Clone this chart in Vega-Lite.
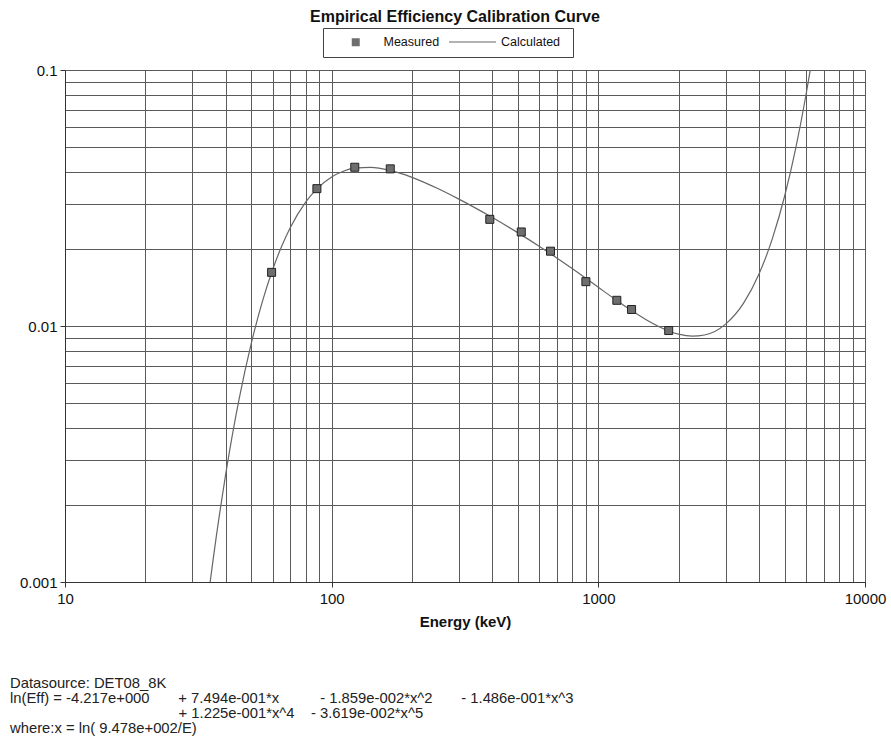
{
  "$schema": "https://vega.github.io/schema/vega-lite/v6.json",
  "padding": {"left": 10, "top": 9, "right": 3, "bottom": 5},
  "background": "white",
  "title": {"text": "Empirical Efficiency Calibration Curve", "anchor": "middle", "fontSize": 16, "fontWeight": "bold", "font": "Liberation Sans", "color": "#111", "offset": -7.5, "dx": 7},
  "datasets": {
    "calc": [
      {"energy": 35, "eff": 0.000995}, {"energy": 36, "eff": 0.001243}, {"energy": 37, "eff": 0.001528},
      {"energy": 38, "eff": 0.001851}, {"energy": 40, "eff": 0.002617}, {"energy": 45, "eff": 0.005204},
      {"energy": 50, "eff": 0.008593}, {"energy": 55, "eff": 0.01248}, {"energy": 60, "eff": 0.016547},
      {"energy": 65, "eff": 0.02053}, {"energy": 70, "eff": 0.024248}, {"energy": 80, "eff": 0.030523},
      {"energy": 88.03, "eff": 0.03434}, {"energy": 100, "eff": 0.038224}, {"energy": 110, "eff": 0.040153},
      {"energy": 122.06, "eff": 0.041346}, {"energy": 140, "eff": 0.041653}, {"energy": 165.86, "eff": 0.04053},
      {"energy": 200, "eff": 0.038088}, {"energy": 250, "eff": 0.034432}, {"energy": 300, "eff": 0.0313},
      {"energy": 391.7, "eff": 0.026872}, {"energy": 500, "eff": 0.023107}, {"energy": 600, "eff": 0.02049},
      {"energy": 661.66, "eff": 0.019156}, {"energy": 800, "eff": 0.016721}, {"energy": 898.04, "eff": 0.01535},
      {"energy": 1000, "eff": 0.014162}, {"energy": 1173.2, "eff": 0.012575}, {"energy": 1332.5, "eff": 0.011484},
      {"energy": 1500, "eff": 0.010627}, {"energy": 1836, "eff": 0.009565}, {"energy": 2000, "eff": 0.009292},
      {"energy": 2250, "eff": 0.009124}, {"energy": 2500, "eff": 0.009221}, {"energy": 3000, "eff": 0.010169},
      {"energy": 3500, "eff": 0.012254}, {"energy": 4000, "eff": 0.015917}, {"energy": 4500, "eff": 0.022045},
      {"energy": 5000, "eff": 0.032265}, {"energy": 5500, "eff": 0.049541}, {"energy": 6000, "eff": 0.079318},
      {"energy": 6200, "eff": 0.096765}, {"energy": 6300, "eff": 0.1071}
    ],
    "meas": [
      {"energy": 59.54, "eff": 0.0162, "series": "Measured"},
      {"energy": 88.03, "eff": 0.0344, "series": "Measured"},
      {"energy": 122.06, "eff": 0.0417, "series": "Measured"},
      {"energy": 165.86, "eff": 0.0411, "series": "Measured"},
      {"energy": 391.7, "eff": 0.0261, "series": "Measured"},
      {"energy": 514.0, "eff": 0.0233, "series": "Measured"},
      {"energy": 661.66, "eff": 0.0196, "series": "Measured"},
      {"energy": 898.04, "eff": 0.0149, "series": "Measured"},
      {"energy": 1173.2, "eff": 0.0126, "series": "Measured"},
      {"energy": 1332.5, "eff": 0.0116, "series": "Measured"},
      {"energy": 1836.1, "eff": 0.0096, "series": "Measured"}
    ]
  },
  "vconcat": [
    {
      "width": 800,
      "height": 512,
      "title": {
        "text": "Datasource:  DET08_8K",
        "subtitle": [
          "ln(Eff) = -4.217e+000\u00a0\u00a0\u00a0\u00a0\u00a0\u00a0\u00a0+ 7.494e-001*x\u00a0\u00a0\u00a0\u00a0\u00a0\u00a0\u00a0\u00a0\u00a0\u00a0- 1.859e-002*x^2\u00a0\u00a0\u00a0\u00a0\u00a0\u00a0\u00a0- 1.486e-001*x^3",
          "\u200b\u00a0\u00a0\u00a0\u00a0\u00a0\u00a0\u00a0\u00a0\u00a0\u00a0\u00a0\u00a0\u00a0\u00a0\u00a0\u00a0\u00a0\u00a0\u00a0\u00a0\u00a0\u00a0\u00a0\u00a0\u00a0\u00a0\u00a0\u00a0\u00a0\u00a0\u00a0\u00a0\u00a0\u00a0\u00a0\u00a0\u00a0\u00a0\u00a0\u00a0\u00a0+ 1.225e-001*x^4\u00a0\u00a0\u00a0\u00a0- 3.619e-002*x^5",
          "where:x = ln( 9.478e+002/E)"
        ],
        "orient": "bottom",
        "anchor": "start",
        "frame": "group",
        "dx": -55,
        "offset": 47,
        "font": "Liberation Sans",
        "subtitleFont": "Liberation Sans",
        "fontSize": 14.8,
        "subtitleFontSize": 14.8,
        "fontWeight": "normal",
        "color": "#222",
        "subtitleColor": "#222",
        "lineHeight": 15.3,
        "subtitleLineHeight": 15.3,
        "subtitlePadding": 0
      },
      "layer": [
        {
          "data": {"name": "calc"},
          "mark": {"type": "line", "clip": true, "interpolate": "monotone", "strokeWidth": 1.2},
          "encoding": {
            "x": {"field": "energy", "type": "quantitative"},
            "y": {"field": "eff", "type": "quantitative"},
            "color": {
              "datum": "Calculated",
              "type": "nominal",
              "scale": {"domain": ["Calculated"], "range": ["#666"]},
              "legend": {
                "orient": "none",
                "legendX": 383,
                "legendY": -52.5,
                "title": null,
                "padding": 0,
                "symbolType": "stroke",
                "symbolSize": 2209,
                "symbolStrokeWidth": 1.2,
                "labelOffset": 4,
                "labelFontSize": 12.5,
                "labelFont": "Liberation Sans",
                "labelColor": "#111"
              }
            }
          }
        },
        {
          "data": {"name": "meas"},
          "mark": {"type": "point", "filled": true, "size": 64, "color": "#6e6e6e", "stroke": "#222", "strokeWidth": 1, "opacity": 1},
          "encoding": {
            "x": {"field": "energy", "type": "quantitative"},
            "y": {"field": "eff", "type": "quantitative"},
            "shape": {
              "field": "series",
              "type": "nominal",
              "scale": {"domain": ["Measured"], "range": ["square"]},
              "legend": {
                "orient": "none",
                "legendX": 258,
                "legendY": -42,
                "direction": "horizontal",
                "title": "\u00a0",
                "titleOrient": "right",
                "titlePadding": 125.4,
                "titleFontSize": 13,
                "symbolOffset": 18.5,
                "symbolSize": 64,
                "symbolStrokeWidth": 1,
                "symbolStrokeColor": "#333",
                "symbolFillColor": "#6e6e6e",
                "labelFontSize": 12.5,
                "labelFont": "Liberation Sans",
                "labelColor": "#111",
                "labelOffset": 21.5,
                "padding": 8,
                "strokeColor": "#444"
              }
            }
          }
        }
      ],
      "encoding": {
        "x": {
          "field": "energy",
          "type": "quantitative",
          "scale": {"type": "log", "domain": [10, 10000], "nice": false},
          "axis": {
            "title": "Energy (keV)",
            "values": [10, 20, 30, 40, 50, 60, 70, 80, 90, 100, 200, 300, 400, 500, 600, 700, 800, 900, 1000, 2000, 3000, 4000, 5000, 6000, 7000, 8000, 9000, 10000],
            "format": "d",
            "labelExpr": "indexof([10,100,1000,10000], datum.value) >= 0 ? datum.label : ''",
            "tickOpacity": {"condition": {"test": "indexof([10,100,1000,10000], datum.value) >= 0", "value": 1}, "value": 0}
          }
        },
        "y": {
          "field": "eff",
          "type": "quantitative",
          "scale": {"type": "log", "domain": [0.001, 0.1], "nice": false},
          "axis": {
            "title": null,
            "values": [0.001, 0.002, 0.003, 0.004, 0.005, 0.006, 0.007, 0.008, 0.009, 0.01, 0.02, 0.03, 0.04, 0.05, 0.06, 0.07, 0.08, 0.09, 0.1],
            "format": "~g",
            "labelExpr": "indexof([0.001,0.01,0.1], datum.value) >= 0 ? datum.label : ''",
            "tickOpacity": {"condition": {"test": "indexof([0.001,0.01,0.1], datum.value) >= 0", "value": 1}, "value": 0}
          }
        }
      }
    }
  ],
  "config": {
    "font": "Liberation Sans",
    "view": {"stroke": null},
    "axis": {
      "grid": true,
      "gridColor": "#5a5a5a",
      "gridWidth": 1,
      "gridOpacity": 1,
      "domainColor": "#333",
      "tickColor": "#333",
      "tickSize": 5,
      "labelFontSize": 15,
      "labelColor": "#111",
      "labelFont": "Liberation Sans",
      "labelOverlap": false,
      "labelFlush": false,
      "labelPadding": 4,
      "titleFont": "Liberation Sans",
      "titleFontSize": 15,
      "titleFontWeight": "bold",
      "titleColor": "#111",
      "titlePadding": 8
    },
    "axisY": {"labelPadding": 3}
  }
}
